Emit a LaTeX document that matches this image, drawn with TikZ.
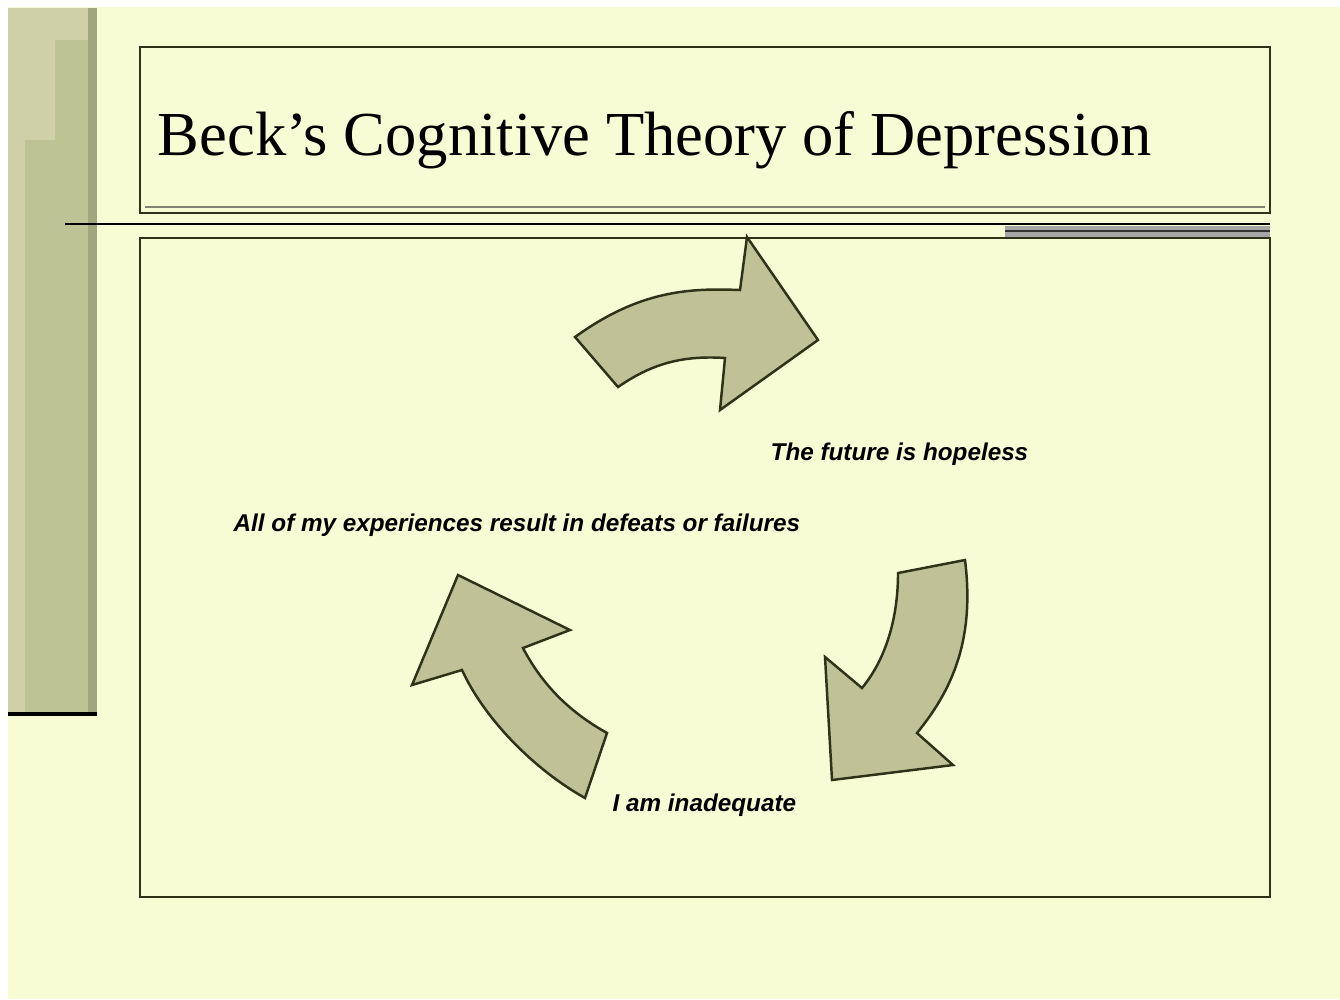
\documentclass[tikz,border=0pt]{standalone}
\usepackage{fontspec}
\setmainfont{Liberation Serif}
\newfontfamily\labelfont{Liberation Sans}
\definecolor{paper}{RGB}{248,252,212}
\definecolor{stripout}{RGB}{206,209,168}
\definecolor{stripin}{RGB}{190,195,150}
\definecolor{arrowfill}{RGB}{190,194,150}
\definecolor{rule}{RGB}{46,50,22}
\tikzset{
  frame/.style={draw=rule, line width=0.7pt},
  blockarrow/.style={fill=arrowfill, draw=rule, line width=0.7pt, line join=miter},
  thought/.style={font=\labelfont\bfseries\itshape\fontsize{6.9}{7.5}\selectfont, inner sep=0pt, anchor=base west}
}
\begin{document}
\begin{tikzpicture}[x=0.01cm, y=-0.01cm]
  % page and its margins
  \useasboundingbox (0,0) rectangle (1340,999);
  \fill[white] (0,0) rectangle (1340,999);
  \fill[paper] (8,7) rectangle (1340,999);

  % decorative strip at the left edge
  \fill[stripout] (8,8) rectangle (97,712);
  \fill[stripin] (25,40) rectangle (88,712);
  \fill[stripout] (25,40) rectangle (55,140);
  \fill[stripin!85!black] (88,8) rectangle (97,712);
  \draw[black, line width=1.4pt] (8,714) -- (97,714);

  % title frame
  \draw[frame] (140,47) rectangle (1270,213);
  \draw[rule!60, line width=0.4pt] (145,207) -- (1265,207);
  \node[font=\fontsize{17.8}{20}\selectfont, inner sep=0pt, anchor=base west] (title) at (157,155) {Beck’s Cognitive Theory of Depression};

  % separating rule and the grey band on the right
  \draw[black, line width=0.8pt] (65,224) -- (1270,224);
  \fill[gray!70] (1005,226) rectangle (1270,238);
  \draw[black!80, line width=0.4pt] (1005,231) -- (1270,231);

  % content frame
  \draw[frame] (140,238) rectangle (1270,897);

  % the three curved block arrows of the cycle
  \draw[blockarrow] (575,337) .. controls (640,290) and (690,288) .. (740,290)
    -- (747,237) -- (818,340) -- (720,410) -- (725,358)
    .. controls (680,355) and (650,365) .. (618,387) -- cycle;
  \draw[blockarrow] (898,573) -- (965,560)
    .. controls (975,640) and (952,690) .. (917,733)
    -- (953,765) -- (832,780) -- (825,657) -- (862,688)
    .. controls (885,660) and (898,620) .. (898,573) -- cycle;
  \draw[blockarrow] (458,575) -- (570,630) -- (523,648)
    .. controls (545,690) and (575,715) .. (607,733)
    -- (585,798) .. controls (535,770) and (485,720) .. (462,670)
    -- (412,685) -- cycle;

  % the three thoughts
  \node[thought] (future) at (770,460) {The future is hopeless};
  \node[thought] (defeat) at (233,531) {All of my experiences result in defeats or failures};
  \node[thought] (self) at (612,811) {I am inadequate};
\end{tikzpicture}
\end{document}
